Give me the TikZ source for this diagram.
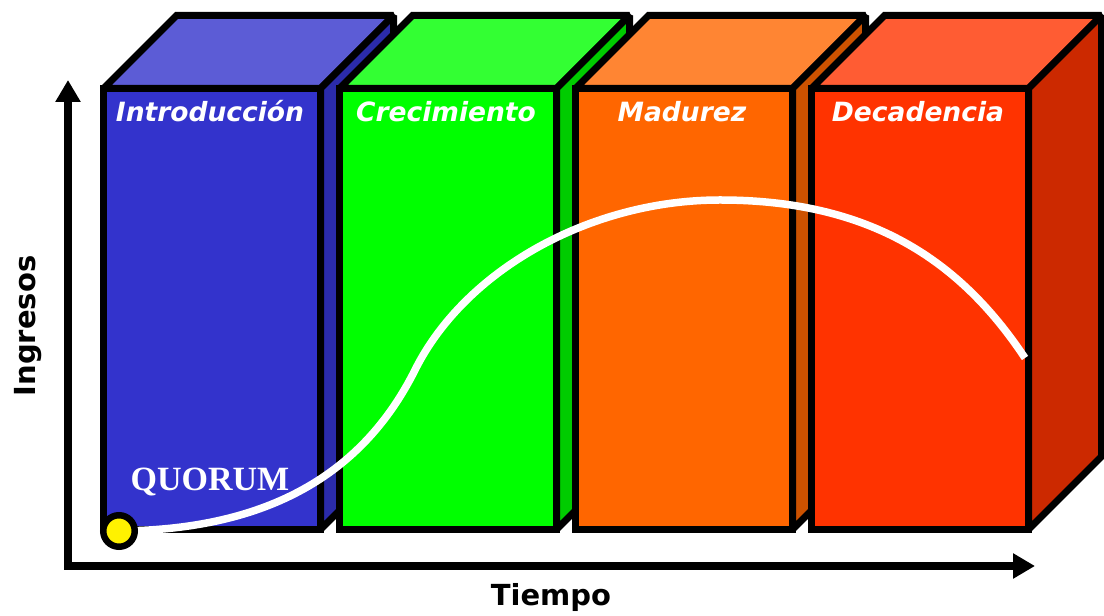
\documentclass[tikz,border=0pt]{standalone}
\usepackage{fontspec}
\newfontfamily\verdana{DejaVu Sans}
\newfontfamily\timesbold{Liberation Serif}
\usetikzlibrary{positioning,calc,arrows.meta}
\definecolor{introfront}{HTML}{3333CC}
\definecolor{introtop}{HTML}{5C5CD6}
\definecolor{introside}{HTML}{2B2BAA}
\definecolor{crecfront}{HTML}{00FF00}
\definecolor{crectop}{HTML}{33FF33}
\definecolor{crecside}{HTML}{00CC00}
\definecolor{madfront}{HTML}{FF6600}
\definecolor{madtop}{HTML}{FF8533}
\definecolor{madside}{HTML}{CC5200}
\definecolor{decfront}{HTML}{FF3300}
\definecolor{dectop}{HTML}{FF5C33}
\definecolor{decside}{HTML}{CC2900}

\begin{document}
\begin{tikzpicture}[
    x=1pt, y=1pt,
    stage/.style={rectangle, draw=black, line width=7pt, minimum width=217pt, minimum height=441pt, inner sep=0pt, outer sep=0pt},
    face/.style={draw=black, line width=7pt, line join=miter, miter limit=2},
    stagelabel/.style={anchor=base, text=white, font=\verdana\bfseries\itshape\fontsize{26.5}{30}\selectfont},
    axis/.style={line width=7.5pt, line join=miter, {Triangle[length=22pt,width=24pt]}-{Triangle[length=22pt,width=24pt]}},
    axislabel/.style={anchor=base, font=\verdana\bfseries\fontsize{29}{32}\selectfont},
    curve/.style={draw=white, line width=7.5pt}
]
    \useasboundingbox (0,0) rectangle (1104,616);

    % Axes
    \coordinate (origin) at (68,50);
    \coordinate (ytip) at (68,536);
    \coordinate (xtip) at (1035,50);
    \draw[axis] (ytip) -- (origin) -- (xtip);
    \node[axislabel, rotate=90] (ingresos) at (35,290) {Ingresos};
    \node[axislabel] (tiempo) at (551,10) {Tiempo};

    % Stages
    \node[stage, fill=introfront] (intro) at (212,307) {};
    \draw[face, fill=introtop] (intro.north west) -- ++(73,73) -- ($(intro.north east)+(73,73)$) -- (intro.north east) -- cycle;
    \draw[face, fill=introside] (intro.north east) -- ++(73,73) -- ($(intro.south east)+(73,73)$) -- (intro.south east) -- cycle;

    \node[stage, fill=crecfront, right=19pt of intro] (crec) {};
    \draw[face, fill=crectop] (crec.north west) -- ++(73,73) -- ($(crec.north east)+(73,73)$) -- (crec.north east) -- cycle;
    \draw[face, fill=crecside] (crec.north east) -- ++(73,73) -- ($(crec.south east)+(73,73)$) -- (crec.south east) -- cycle;

    \node[stage, fill=madfront, right=19pt of crec] (madur) {};
    \draw[face, fill=madtop] (madur.north west) -- ++(73,73) -- ($(madur.north east)+(73,73)$) -- (madur.north east) -- cycle;
    \draw[face, fill=madside] (madur.north east) -- ++(73,73) -- ($(madur.south east)+(73,73)$) -- (madur.south east) -- cycle;

    \node[stage, fill=decfront, right=19pt of madur] (decad) {};
    \draw[face, fill=dectop] (decad.north west) -- ++(73,73) -- ($(decad.north east)+(73,73)$) -- (decad.north east) -- cycle;
    \draw[face, fill=decside] (decad.north east) -- ++(73,73) -- ($(decad.south east)+(73,73)$) -- (decad.south east) -- cycle;

    % Stage names
    \node[stagelabel] (introtxt) at ([xshift=-2pt, yshift=-33.5pt]intro.north) {Introducción};
    \node[stagelabel] (crectxt) at ([xshift=-2pt, yshift=-33.5pt]crec.north) {Crecimiento};
    \node[stagelabel] (madurtxt) at ([xshift=-2pt, yshift=-33.5pt]madur.north) {Madurez};
    \node[stagelabel] (decadtxt) at ([xshift=-2pt, yshift=-33.5pt]decad.north) {Decadencia};

    \node[anchor=base, text=white, font=\timesbold\bfseries\fontsize{34}{36}\selectfont] (quorum) at (210,125) {QUORUM};

    % Revenue curve
    \coordinate (bend) at (415,246);
    \coordinate (peak) at (720,416);
    \coordinate (curveend) at (1025,258);
    \node[circle, minimum size=31.5pt, inner sep=0pt] (start) at (119,85) {};
    \draw[curve] (start.center) .. controls (260,86) and (360,136) .. (bend)
        .. controls (465,346) and (590,416) .. (peak)
        .. controls (870,416) and (960,356) .. (curveend);
    \node[circle, draw=black, line width=6.5pt, fill=yellow, minimum size=31.5pt, inner sep=0pt] (dot) at (start) {};
\end{tikzpicture}
\end{document}
